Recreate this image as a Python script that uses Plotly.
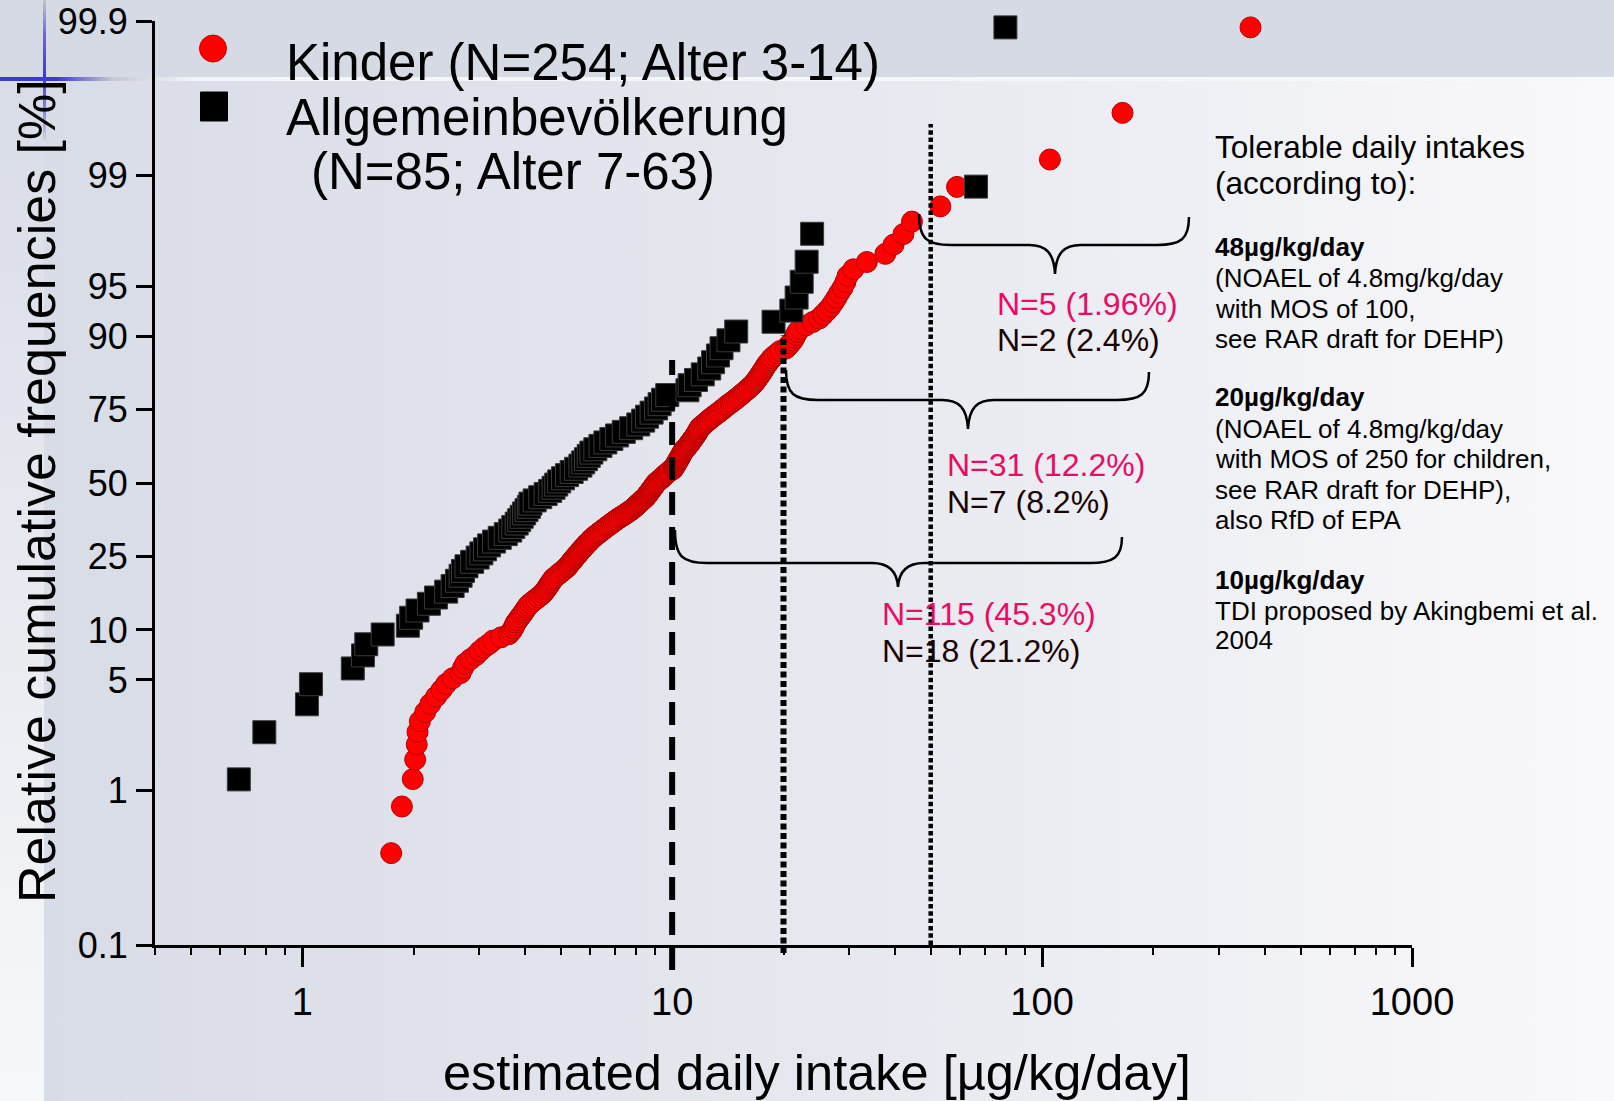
import math
import base64
import plotly.graph_objects as go

# ---------------- data ----------------
kinder_label = "Kinder (N=254; Alter 3-14)"
allg_label_1 = "Allgemeinbevölkerung"
allg_label_2 = "(N=85; Alter 7-63)"

# estimated daily intake [µg/kg/day], sorted, children (N=254)
kinder_intake = [
    1.74, 1.86, 1.99, 2.02, 2.04, 2.05, 2.08, 2.15, 2.22, 2.30,
    2.38, 2.45, 2.55, 2.68, 2.72, 2.76, 2.85, 2.95, 3.02, 3.10,
    3.20, 3.28, 3.45, 3.62, 3.68, 3.72, 3.75, 3.78, 3.83, 3.87,
    3.92, 3.96, 4.00, 4.04, 4.08, 4.14, 4.21, 4.28, 4.35, 4.42,
    4.48, 4.52, 4.56, 4.60, 4.63, 4.67, 4.70, 4.74, 4.77, 4.83,
    4.89, 4.95, 5.01, 5.07, 5.13, 5.19,
    5.23, 5.27, 5.31, 5.35, 5.39, 5.43, 5.47, 5.51, 5.55, 5.59,
    5.63, 5.67, 5.72, 5.76, 5.80, 5.84, 5.88, 5.93, 5.98, 6.02,
    6.07, 6.12,
    6.18, 6.24, 6.30, 6.36, 6.42, 6.49, 6.55, 6.61, 6.68, 6.74,
    6.81, 6.88, 6.94, 7.01, 7.08, 7.15, 7.23,
    7.31, 7.39, 7.47, 7.55, 7.63, 7.70, 7.78,
    7.84, 7.90, 7.96, 8.02, 8.08, 8.14, 8.20, 8.26, 8.32, 8.38, 8.44, 8.50,
    8.54, 8.58, 8.62, 8.67, 8.71, 8.75, 8.79, 8.84, 8.88, 8.92, 8.96, 9.01, 9.05,
    9.12, 9.19, 9.26, 9.33, 9.40, 9.47, 9.54, 9.61, 9.68, 9.75, 9.82, 9.90,
    10.05, 10.09, 10.13, 10.17, 10.21, 10.25, 10.29, 10.33, 10.37, 10.41,
    10.45, 10.49, 10.53, 10.57, 10.61, 10.65, 10.69, 10.73,
    10.80, 10.87, 10.94, 11.00, 11.06, 11.12, 11.18, 11.24, 11.30, 11.36,
    11.42, 11.48, 11.54, 11.60, 11.65, 11.70, 11.75, 11.80, 11.85, 11.90,
    12.05, 12.15, 12.25, 12.37, 12.48, 12.60, 12.73, 12.86, 13.00, 13.15,
    13.30, 13.45, 13.60, 13.75, 13.90, 14.05, 14.20, 14.40, 14.58, 14.76,
    14.94, 15.12, 15.30, 15.48, 15.66, 15.85, 16.04, 16.22, 16.41, 16.60,
    16.74, 16.88, 17.02, 17.16, 17.30, 17.44, 17.58, 17.72, 17.86, 18.00,
    18.20, 18.40, 18.60, 18.90, 19.25, 19.60,
    20.3, 20.6, 20.9, 21.2, 21.4, 21.6, 21.8, 22.2, 23.0, 24.0,
    25.0, 25.6, 26.2, 26.8, 27.3, 27.8, 28.3, 28.9, 29.4, 29.8,
    30.9, 33.6, 37.7, 39.7, 42.2, 44.5,
    53.1, 58.9, 105.0, 165.0, 366.0,
]

# estimated daily intake [µg/kg/day], sorted, general population (N=85)
allg_intake = [
    0.674, 0.79, 1.03, 1.056, 1.37, 1.46, 1.49, 1.65, 1.93, 1.97,
    2.05, 2.20, 2.30, 2.45, 2.55, 2.62, 2.68, 2.72, 2.78, 2.88,
    2.98, 3.05, 3.12, 3.20, 3.30, 3.42, 3.55, 3.65, 3.72, 3.80,
    3.86, 3.92, 3.98, 4.04, 4.10, 4.14, 4.25, 4.40, 4.55, 4.68,
    4.78, 4.86, 4.95, 5.07, 5.20, 5.35, 5.50, 5.65, 5.75, 5.85,
    5.95, 6.05, 6.20, 6.40, 6.60, 6.85, 7.10, 7.40, 7.75, 8.10,
    8.35, 8.55, 8.80, 9.05, 9.25, 9.45, 9.70,
    11.0, 11.15, 11.6, 12.1, 12.6, 12.9, 13.3, 13.6, 14.2, 14.9,
    18.8, 21.0, 21.7, 22.4, 23.1, 23.9, 66.3, 79.6,
]

y_tick_pct = [0.1, 1, 5, 10, 25, 50, 75, 90, 95, 99, 99.9]
x_tick_vals = [1, 10, 100, 1000]
x_tick_text = ["1", "10", "100", "1000"]
x_minor_vals = [0.4, 0.5, 0.6, 0.7, 0.8, 0.9,
                2, 3, 4, 5, 6, 7, 8, 9,
                20, 30, 40, 50, 60, 70, 80, 90,
                200, 300, 400, 500, 600, 700, 800, 900]
limit_lines = [10, 20, 50]

kinder_counts = ["N=115 (45.3%)", "N=31 (12.2%)", "N=5 (1.96%)"]
allg_counts = ["N=18 (21.2%)", "N=7 (8.2%)", "N=2 (2.4%)"]

tdi_heading = ["Tolerable daily intakes", "(according to):"]
tdi_blocks = [
    ("48µg/kg/day", ["(NOAEL of 4.8mg/kg/day", "with MOS of 100,", "see RAR draft for DEHP)"]),
    ("20µg/kg/day", ["(NOAEL of 4.8mg/kg/day", "with MOS of 250 for children,",
                     "see RAR draft for DEHP),", "also RfD of EPA"]),
    ("10µg/kg/day", ["TDI proposed by Akingbemi et al.", "2004"]),
]

assert len(kinder_intake) == 254 and len(allg_intake) == 85


# ---------------- helpers ----------------
def logit_pct(p):
    q = p / 100.0
    return math.log(q / (1.0 - q))


def cum_freq(n):
    # empirical cumulative frequency i/N; the 100 % point sits at the top of the scale
    return [min(100.0 * i / n, 99.89) for i in range(1, n + 1)]


W, H = 1614, 1101
PL, PR, PT, PB = 155, 1412, 21, 945


def xp(px):
    return (px - PL) / (PR - PL)


def yp(py):
    return (PB - py) / (PB - PT)


FONT = "Arial, Liberation Sans, sans-serif"
PINK = "#EB0A64"
DARK = "#1a0303"

fig = go.Figure()

fig.add_trace(go.Scatter(
    x=kinder_intake, y=[logit_pct(p) for p in cum_freq(len(kinder_intake))],
    mode="markers", name=kinder_label, cliponaxis=False,
    marker=dict(symbol="circle", size=21, color="#ff0000",
                line=dict(color="#b80000", width=1)),
))
fig.add_trace(go.Scatter(
    x=allg_intake, y=[logit_pct(p) for p in cum_freq(len(allg_intake))],
    mode="markers", name=allg_label_1, cliponaxis=False,
    marker=dict(symbol="square", size=23, color="#000000",
                line=dict(color="#3a3a3a", width=1)),
))

# ---------------- background (slide) ----------------
svg = f'''<svg xmlns="http://www.w3.org/2000/svg" width="{W}" height="{H}" viewBox="0 0 {W} {H}" preserveAspectRatio="none">
<defs>
<linearGradient id="main" x1="0" y1="0" x2="1" y2="0">
<stop offset="0" stop-color="#d8dce6"/><stop offset="0.5" stop-color="#e6e8ef"/><stop offset="1" stop-color="#f9f9fb"/></linearGradient>
<linearGradient id="side" x1="0" y1="0" x2="0" y2="1">
<stop offset="0" stop-color="#d8dce6"/><stop offset="1" stop-color="#f7f8fa"/></linearGradient>
<linearGradient id="hl" x1="0" y1="0" x2="1" y2="0">
<stop offset="0" stop-color="#3b3bcc"/><stop offset="0.035" stop-color="#3b3bcc"/>
<stop offset="0.07" stop-color="#c7c9d2"/><stop offset="0.12" stop-color="#f4f5f8"/><stop offset="1" stop-color="#f7f8fa"/></linearGradient>
<linearGradient id="vl" x1="0" y1="0" x2="0" y2="1">
<stop offset="0" stop-color="#c2c4cc"/><stop offset="0.25" stop-color="#6a6ad0"/><stop offset="0.55" stop-color="#3b3bcc"/>
<stop offset="0.8" stop-color="#8a8ad6"/><stop offset="1" stop-color="#d0d2dc"/></linearGradient>
</defs>
<rect x="0" y="0" width="{W}" height="{H}" fill="#d6dae4"/>
<rect x="44" y="80" width="{W-44}" height="{H-80}" fill="url(#main)"/>
<rect x="0" y="80" width="44" height="{H-80}" fill="url(#side)"/>
<rect x="0" y="77" width="{W}" height="4" fill="url(#hl)"/>
<rect x="43" y="0" width="3" height="140" fill="url(#vl)"/>
</svg>'''
src = "data:image/svg+xml;base64," + base64.b64encode(svg.encode("utf-8")).decode("ascii")

images = [dict(source=src, xref="paper", yref="paper", x=xp(0), y=yp(0),
               sizex=W / (PR - PL), sizey=H / (PB - PT), xanchor="left", yanchor="top",
               sizing="stretch", layer="below")]

# ---------------- shapes ----------------
shapes = []
# reference lines at the TDI values (x in data units)
line_specs = [
    (limit_lines[0], 970, 360, 6, "23px,12px"),
    (limit_lines[1], 953, 335, 6, "6px,3.5px"),
    (limit_lines[2], 945, 124, 4.5, "4.5px,2.8px"),
]
for xv, ybot, ytop, w, dash in line_specs:
    shapes.append(dict(type="line", xref="x", yref="paper",
                       x0=xv, x1=xv, y0=yp(ybot), y1=yp(ytop),
                       line=dict(color="black", width=w, dash=dash), layer="above"))


def brace_path(x0, yl, x1, yr, yh, xm, ytip):
    pts = [
        ("M", [(x0, yl)]),
        ("C", [(x0, yh - 6), (x0 + 8, yh), (x0 + 32, yh)]),
        ("L", [(xm - 26, yh)]),
        ("C", [(xm - 9, yh), (xm - 1, yh + 8), (xm, ytip)]),
        ("C", [(xm + 1, yh + 8), (xm + 9, yh), (xm + 26, yh)]),
        ("L", [(x1 - 32, yh)]),
        ("C", [(x1 - 8, yh), (x1, yh - 6), (x1, yr)]),
    ]
    out = []
    for cmd, plist in pts:
        out.append(cmd + " " + " ".join(f"{xp(a):.5f},{yp(b):.5f}" for a, b in plist))
    return " ".join(out)


for args in [(675, 530, 1122, 537, 563, 898, 587),
             (786, 370, 1149, 372, 400, 968, 429),
             (919, 214, 1189, 217, 245, 1055, 274)]:
    shapes.append(dict(type="path", xref="paper", yref="paper", path=brace_path(*args),
                       line=dict(color="black", width=2.5), layer="above"))

# legend symbols
shapes.append(dict(type="circle", xref="paper", yref="paper",
                   x0=xp(199.5), x1=xp(226.5), y0=yp(62), y1=yp(35),
                   fillcolor="#ff0000", line=dict(color="#c00000", width=1), layer="above"))
shapes.append(dict(type="rect", xref="paper", yref="paper",
                   x0=xp(200.5), x1=xp(227.5), y0=yp(121), y1=yp(92),
                   fillcolor="#000000", line=dict(color="#000000", width=1), layer="above"))

# ---------------- annotations ----------------
ann = []


def text(px, py, s, size, color="black", bold=False, xanchor="left", angle=0):
    if bold:
        s = "<b>" + s + "</b>"
    ann.append(dict(x=xp(px), y=yp(py), xref="paper", yref="paper", text=s, showarrow=False,
                    xanchor=xanchor, yanchor="middle", textangle=angle,
                    font=dict(family=FONT, size=size, color=color)))


# legend texts
text(284, 62, kinder_label, 51)
text(284, 118, allg_label_1, 51)
text(309, 171, allg_label_2, 51)

# axis titles
text(817, 1072, "estimated daily intake [µg/kg/day]", 50.5, xanchor="center")
text(37, 491, "Relative cumulative frequencies [%]", 52, xanchor="center", angle=-90)

# counts under the braces
count_pos = [(880, 614, 651), (945, 465, 502), (995, 304, 340)]
for (px, py1, py2), k, a in zip(count_pos, kinder_counts, allg_counts):
    text(px, py1, k, 32, PINK)
    text(px, py2, a, 32, DARK)

# TDI explanation block
text(1213, 147, tdi_heading[0], 31.5)
text(1213, 183, tdi_heading[1], 31.5)
block_y = [(247, [278, 309, 339]), (397, [429, 459, 490, 520]), (580, [611, 640])]
for (head, lines), (hy, ly) in zip(tdi_blocks, block_y):
    text(1213, hy, head, 26, bold=True)
    for s, y in zip(lines, ly):
        text(1213, y, s, 26)

# ---------------- layout ----------------
fig.update_layout(
    width=W, height=H,
    margin=dict(l=PL, r=W - PR, t=PT, b=H - PB, pad=0),
    template="none",
    paper_bgcolor="#d6dae4",
    plot_bgcolor="rgba(0,0,0,0)",
    showlegend=False,
    images=images,
    shapes=shapes,
    annotations=ann,
    font=dict(family=FONT, color="black"),
    xaxis=dict(
        type="log", range=[math.log10(0.4), 3], automargin=False,
        showline=True, linecolor="black", linewidth=3,
        showgrid=False, zeroline=False,
        ticks="outside", ticklen=19, tickwidth=3, tickcolor="black",
        tickmode="array", tickvals=x_tick_vals, ticktext=x_tick_text,
        tickfont=dict(family=FONT, size=38, color="black"),
        ticklabelstandoff=2,
        minor=dict(ticks="outside", ticklen=7, tickwidth=2, tickcolor="black",
                   tickmode="array", tickvals=x_minor_vals, showgrid=False),
    ),
    yaxis=dict(
        range=[logit_pct(0.1), logit_pct(99.9)], automargin=False,
        showline=True, linecolor="black", linewidth=3,
        showgrid=False, zeroline=False,
        ticks="outside", ticklen=16, tickwidth=2.5, tickcolor="black",
        tickmode="array", tickvals=[logit_pct(p) for p in y_tick_pct],
        ticktext=[f"{p:g}" for p in y_tick_pct],
        tickfont=dict(family=FONT, size=36, color="black"),
        ticklabelstandoff=1,
    ),
)

fig.write_html("out.html", config={"displayModeBar": False})
